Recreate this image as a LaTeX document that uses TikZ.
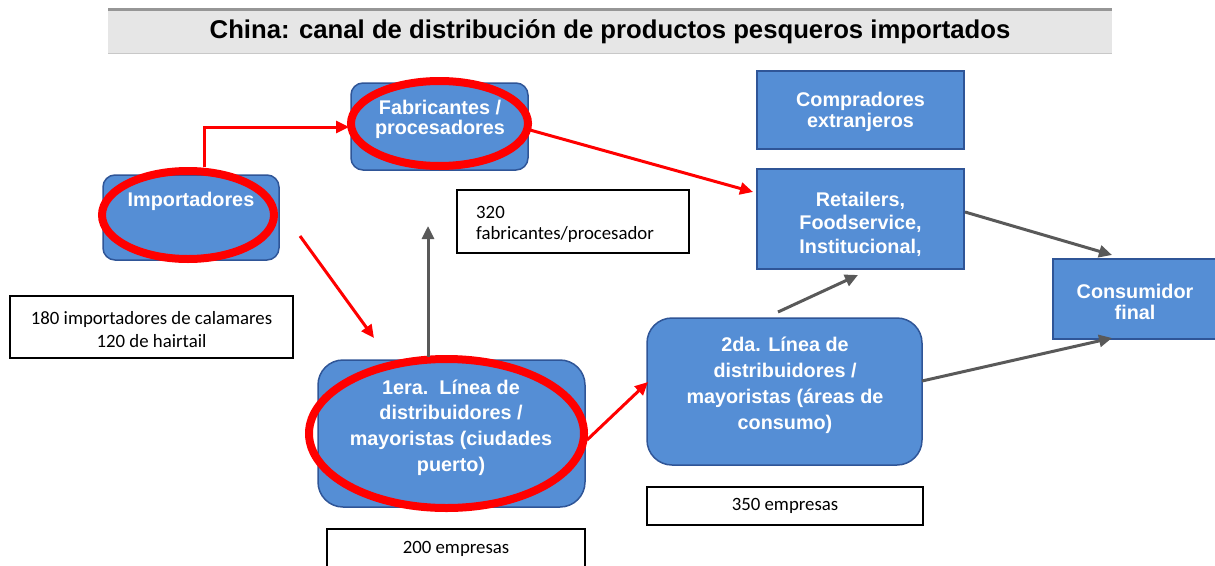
\documentclass[tikz,border=0pt]{standalone}
\usepackage{fontspec}
\setmainfont{Liberation Sans}
\newfontfamily\calib{Carlito}
\usetikzlibrary{arrows.meta,shapes.geometric}
\definecolor{boxblue}{RGB}{85,142,213}
\definecolor{boxedge}{RGB}{47,85,151}
\definecolor{arrgray}{RGB}{89,89,89}
\definecolor{titlebg}{RGB}{230,230,230}
\definecolor{titleline}{RGB}{150,150,150}
\definecolor{titleline2}{RGB}{200,200,200}
\begin{document}
\begin{tikzpicture}[x=1pt,y=-1pt,
  bluebox/.style={draw=boxedge, fill=boxblue, line width=1.5pt, inner sep=0pt},
  rbox/.style={bluebox, rounded corners=#1},
  btext/.style={text=white, font=\bfseries\fontsize{19.8}{#1}\selectfont, align=center, inner sep=0pt},
  numbox/.style={draw=black, line width=1.3pt, fill=white, inner sep=0pt},
  ntext/.style={font=\calib\fontsize{18.8}{#1}\selectfont, inner sep=0pt},
  redmark/.style={draw=red, line width=8pt, ellipse, inner sep=0pt},
  redarrow/.style={draw=red, line width=3pt, -{Triangle[length=13pt,width=12pt]}},
  grayarrow/.style={draw=arrgray, line width=3pt, -{Triangle[length=13pt,width=12pt]}},
]
\useasboundingbox (0,0) rectangle (1215,565);

% title band
\fill[titlebg] (108,11) rectangle (1112,53);
\draw[titleline, line width=3pt] (108,9.5) -- (1112,9.5);
\draw[titleline2, line width=1pt] (108,53.5) -- (1112,53.5);
\node[font=\bfseries\fontsize{25.7}{30}\selectfont, inner sep=0pt] (title) at (610,32)
  {China: canal de distribución de productos pesqueros importados};

% blue boxes
\node[rbox=12pt, minimum width=176pt, minimum height=85pt] (imp) at (191,217.5) {};
\node[rbox=12pt, minimum width=177pt, minimum height=87pt] (fab) at (439.5,126.5) {};
\node[rbox=25pt, minimum width=267pt, minimum height=147pt] (era) at (451.5,433.5) {};
\node[rbox=25pt, minimum width=275pt, minimum height=147pt] (sda) at (784.5,391.5) {};
\node[bluebox, minimum width=207pt, minimum height=78pt] (comp) at (860.5,110) {};
\node[bluebox, minimum width=207pt, minimum height=100pt] (ret) at (860.5,219) {};
\node[bluebox, minimum width=164pt, minimum height=80pt] (cons) at (1135,299) {};

% number boxes
\node[numbox, minimum width=283pt, minimum height=62pt] (n180) at (151.5,327) {};
\node[numbox, minimum width=232pt, minimum height=63pt] (n320) at (573,221.5) {};
\node[numbox, minimum width=258pt, minimum height=56pt] (n200) at (456,557) {};
\node[numbox, minimum width=276pt, minimum height=38pt, font=\calib\fontsize{18.8}{22}\selectfont] (n350) at (785,506) {350 empresas};

% red marks
\node[redmark, minimum width=172pt, minimum height=88pt] (impE) at (188,215) {};
\node[redmark, minimum width=177pt, minimum height=85pt] (fabE) at (439.5,123.5) {};
\node[redmark, minimum width=275pt, minimum height=149pt] (eraE) at (446.5,433.5) {};

% box texts
\node[btext=20] (impT) at (191,201) {Importadores};
\node[btext=20] (fabT) at (440,119) {Fabricantes /\\procesadores};
\node[btext=25.6] (eraT) at (451,427.5) {1era.\ \ Línea de\\distribuidores /\\mayoristas (ciudades\\puerto)};
\node[btext=26] (sdaT) at (785,385.7) {2da. Línea de\\distribuidores /\\mayoristas (áreas de\\consumo)};
\node[btext=21] (compT) at (860.5,111.5) {Compradores\\extranjeros};
\node[btext=23.5] (retT) at (860.5,224) {Retailers,\\Foodservice,\\Institucional,};
\node[btext=21] (consT) at (1135,301.5) {Consumidor\\final};

% number texts
\node[ntext=23, align=center] (n180T) at (151.5,329.5) {180 importadores de calamares\\120 de hairtail};
\node[ntext=21, align=left, anchor=west] (n320T) at (476,224) {320\\fabricantes/procesador};
\node[ntext=22] (n200T) at (456,549) {200 empresas};

% connector end points
\coordinate (impUp) at (204,167);
\coordinate (fabIn) at (349,127);
\coordinate (impOut) at (300,236);
\coordinate (eraIn) at (374,338);
\coordinate (fabOut) at (530,130);
\coordinate (retIn) at (753,192);
\coordinate (eraOut) at (587,440);
\coordinate (sdaIn) at (648,382);
\coordinate (eraUp) at (428,357);
\coordinate (upTip) at (428,226);
\coordinate (sdaUp) at (778,312);
\coordinate (retDn) at (858,275);
\coordinate (retOut) at (965,212);
\coordinate (consIn) at (1112,255);
\coordinate (sdaOut) at (922,381);
\coordinate (consIn2) at (1112,338);

% red arrows
\draw[redarrow] (impUp) |- (fabIn);
\draw[redarrow] (impOut) -- (eraIn);
\draw[redarrow] (fabOut) -- (retIn);
\draw[redarrow] (eraOut) -- (sdaIn);

% gray arrows
\draw[grayarrow] (eraUp) -- (upTip);
\draw[grayarrow] (sdaUp) -- (retDn);
\draw[grayarrow] (retOut) -- (consIn);
\draw[grayarrow] (sdaOut) -- (consIn2);
\end{tikzpicture}
\end{document}
